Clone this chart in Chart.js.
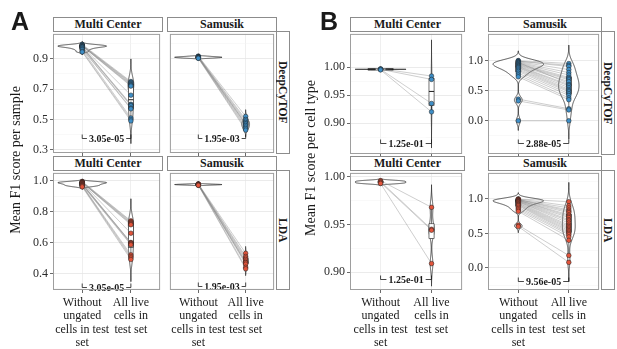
<!DOCTYPE html>
<html><head><meta charset="utf-8">
<script src="https://cdn.jsdelivr.net/npm/chart.js@4"></script>
<style>
body{margin:0;width:617px;height:349px;background:#fff;position:relative;overflow:hidden;font-family:"Liberation Serif","DejaVu Serif",serif;color:#1a1a1a}
canvas{position:absolute}
.strip{position:absolute;box-sizing:border-box;border:1px solid #8c8c8c;background:#fff;font-family:"Liberation Serif",serif;font-weight:bold;font-size:12px;display:flex;align-items:center;justify-content:center;z-index:5;white-space:nowrap}
.vstrip{writing-mode:vertical-rl;font-size:11.5px}
.ytitle{position:absolute;font-family:"Liberation Serif",serif;font-size:14px;white-space:nowrap;transform:translate(-50%,-50%) rotate(-90deg);z-index:5}
.letter{position:absolute;font-family:"Liberation Sans",Arial,sans-serif;font-weight:bold;font-size:25px;line-height:1;z-index:5}
</style></head>
<body>
<script>
// ---------------- DATA ----------------
const categories = ["Without ungated cells in test set", "All live cells in test set"];
const categoryLines = [["Without", "ungated", "cells in test", "set"], ["All live", "cells in", "test set"]];
const dataSetNames = ["Multi Center", "Samusik"];
const methodNames = ["DeepCyTOF", "LDA"];
const yTitleA = "Mean F1 score per sample";
const yTitleB = "Mean F1 score per cell type";

// Panel A: mean F1 per sample (index i of "without" is paired with index i of "all")
const aMcDeepWithout = [0.995, 0.99, 0.99, 0.988, 0.985, 0.985, 0.983, 0.98, 0.98, 0.978, 0.975, 0.97, 0.965, 0.96, 0.95, 0.945];
const aMcDeepAll     = [0.75, 0.745, 0.74, 0.735, 0.73, 0.725, 0.72, 0.66, 0.60, 0.595, 0.59, 0.575, 0.57, 0.51, 0.50, 0.49];
const aSamDeepWithout = [0.918, 0.915, 0.913, 0.912, 0.910, 0.910, 0.908, 0.907, 0.905, 0.903];
const aSamDeepAll     = [0.52, 0.50, 0.49, 0.48, 0.47, 0.47, 0.46, 0.45, 0.44, 0.43];
const aMcLdaWithout = [0.995, 0.993, 0.99, 0.99, 0.988, 0.987, 0.985, 0.983, 0.98, 0.978, 0.975, 0.972, 0.97, 0.967, 0.965, 0.96];
const aMcLdaAll     = [0.74, 0.735, 0.73, 0.725, 0.72, 0.715, 0.66, 0.60, 0.598, 0.595, 0.59, 0.585, 0.52, 0.51, 0.50, 0.49];
const aSamLdaWithout = [0.98, 0.978, 0.977, 0.976, 0.975, 0.975, 0.974, 0.973, 0.972, 0.970];
const aSamLdaAll     = [0.53, 0.51, 0.50, 0.49, 0.48, 0.47, 0.47, 0.46, 0.44, 0.43];

// Panel B: mean F1 per cell type
const bMcDeepWithout = [0.997, 0.996, 0.996, 0.995];
const bMcDeepAll     = [0.984, 0.978, 0.935, 0.920];
const bSamDeepWithout = [1.00, 0.99, 0.99, 0.98, 0.97, 0.97, 0.96, 0.95, 0.94, 0.93, 0.92, 0.91, 0.90, 0.89, 0.88, 0.86, 0.84, 0.82, 0.79, 0.76, 0.73, 0.36, 0.33, 0.00];
const bSamDeepAll     = [0.95, 0.92, 0.90, 0.85, 0.62, 0.80, 0.76, 0.72, 0.70, 0.68, 0.65, 0.60, 0.58, 0.55, 0.52, 0.50, 0.48, 0.45, 0.42, 0.38, 0.35, 0.20, 0.18, 0.00];
const bMcLdaWithout = [0.996, 0.995, 0.994, 0.993];
const bMcLdaAll     = [0.968, 0.945, 0.944, 0.909];
const bSamLdaWithout = [1.00, 1.00, 0.99, 0.99, 0.99, 0.98, 0.98, 0.98, 0.97, 0.97, 0.96, 0.96, 0.95, 0.94, 0.93, 0.92, 0.91, 0.90, 0.88, 0.86, 0.84, 0.82, 0.62, 0.60];
const bSamLdaAll     = [0.96, 0.90, 0.87, 0.84, 0.82, 0.80, 0.77, 0.75, 0.73, 0.70, 0.68, 0.65, 0.62, 0.60, 0.58, 0.56, 0.54, 0.52, 0.50, 0.48, 0.45, 0.40, 0.18, 0.08];

// p-values (order: MC DeepCyTOF, Samusik DeepCyTOF, MC LDA, Samusik LDA)
const pValuesA = ["3.05e-05", "1.95e-03", "3.05e-05", "1.95e-03"];
const pValuesB = ["1.25e-01", "2.88e-05", "1.25e-01", "9.56e-05"];

// tick values
const ticksATop    = {major: [0.3, 0.5, 0.7, 0.9], minor: [0.4, 0.6, 0.8, 1.0]};
const ticksABottom = {major: [0.4, 0.6, 0.8, 1.0], minor: [0.3, 0.5, 0.7, 0.9]};
const ticksBMcTop    = {major: [0.90, 0.95, 1.00], minor: [0.875, 0.925, 0.975, 1.025]};
const ticksBMcBottom = {major: [0.90, 0.95, 1.00], minor: [0.925, 0.975]};
const ticksBSam      = {major: [0.0, 0.5, 1.0], minor: [-0.25, 0.25, 0.75, 1.25]};

// ---------------- STYLE ----------------
const SERIF = '"Liberation Serif","DejaVu Serif",serif';
const BLUE = '#3e8ec6', RED = '#e2543b';
const VIOLIN_HALF = 0.5, BOX_WIDTH = 0.1;

// ---------------- HELPERS ----------------
function quantile(s, p){ const h=(s.length-1)*p, i=Math.floor(h); const a=s[i], b=s[Math.min(i+1,s.length-1)]; return a+(h-i)*(b-a); }
function bwNrd0(v){
  const n=v.length, m=v.reduce((a,b)=>a+b,0)/n;
  const sd=Math.sqrt(v.reduce((a,b)=>a+(b-m)*(b-m),0)/(n-1));
  const s=[...v].sort((a,b)=>a-b);
  const iqr=quantile(s,0.75)-quantile(s,0.25);
  let lo=Math.min(sd, iqr/1.34); if(!(lo>0)) lo = sd || Math.abs(s[0]) || 1;
  return 0.9*lo*Math.pow(n,-0.2);
}
function kde(v){
  const bw=bwNrd0(v), lo=Math.min(...v)-3*bw, hi=Math.max(...v)+3*bw, N=400, out=[];
  for(let k=0;k<=N;k++){
    const y=lo+(hi-lo)*k/N; let d=0;
    for(const x of v){ const z=(y-x)/bw; d+=Math.exp(-0.5*z*z); }
    out.push([y, d/(v.length*bw*Math.sqrt(2*Math.PI))]);
  }
  return out;
}

function violinPlugin(p){
  return {id:'violin', beforeDatasetsDraw(chart){
    const {ctx, chartArea:a, scales:{x, y}} = chart;
    const dens = p.groups.map(kde);
    const mx = Math.max(...dens.map(d=>Math.max(...d.map(q=>q[1]))));
    const unit = x.getPixelForValue(1)-x.getPixelForValue(0);
    ctx.save(); ctx.beginPath(); ctx.rect(a.left,a.top,a.right-a.left,a.bottom-a.top); ctx.clip();
    dens.forEach((d,gi)=>{
      const cx = x.getPixelForValue(gi);
      ctx.beginPath();
      d.forEach(([v,den],k)=>{ const px=cx+VIOLIN_HALF*unit*den/mx, py=y.getPixelForValue(v); k?ctx.lineTo(px,py):ctx.moveTo(px,py); });
      for(let k=d.length-1;k>=0;k--){ const [v,den]=d[k]; ctx.lineTo(cx-VIOLIN_HALF*unit*den/mx, y.getPixelForValue(v)); }
      ctx.closePath(); ctx.fillStyle='#fff'; ctx.fill(); ctx.strokeStyle='#1a1a1a'; ctx.lineWidth=0.75; ctx.stroke();
      const s=[...p.groups[gi]].sort((a,b)=>a-b);
      const q1=quantile(s,.25), q2=quantile(s,.5), q3=quantile(s,.75), iqr=q3-q1;
      const lo=s.find(v=>v>=q1-1.5*iqr), hi=[...s].reverse().find(v=>v<=q3+1.5*iqr);
      const hw=BOX_WIDTH*unit/2;
      ctx.lineWidth=0.6;
      ctx.beginPath(); ctx.moveTo(cx,y.getPixelForValue(hi)); ctx.lineTo(cx,y.getPixelForValue(q3));
      ctx.moveTo(cx,y.getPixelForValue(q1)); ctx.lineTo(cx,y.getPixelForValue(lo)); ctx.stroke();
      const t=y.getPixelForValue(q3), b=y.getPixelForValue(q1);
      ctx.fillStyle='#fff'; ctx.fillRect(cx-hw,t,2*hw,b-t); ctx.strokeRect(cx-hw,t,2*hw,b-t);
      ctx.lineWidth=1; ctx.beginPath(); const m=y.getPixelForValue(q2); ctx.moveTo(cx-hw,m); ctx.lineTo(cx+hw,m); ctx.stroke();
    });
    ctx.restore();
  }};
}
function overlayPlugin(p){
  return {id:'overlay', afterDatasetsDraw(chart){
    const {ctx, chartArea:a, scales:{x, y}} = chart;
    ctx.save();
    const yy=Math.round(y.getPixelForValue(p.py))+0.5, x0=x.getPixelForValue(0), x1=x.getPixelForValue(1);
    ctx.strokeStyle='#1a1a1a'; ctx.lineWidth=0.8;
    ctx.beginPath(); ctx.moveTo(x0,yy-4); ctx.lineTo(x0,yy); ctx.lineTo(x1,yy); ctx.lineTo(x1,yy-4); ctx.stroke();
    ctx.font='bold 10px '+SERIF; const tw=ctx.measureText(p.p).width, cx=(x0+x1)/2;
    ctx.fillStyle='#fff'; ctx.fillRect(cx-tw/2-2,yy-6,tw+4,12);
    ctx.fillStyle='#1a1a1a'; ctx.textAlign='center'; ctx.textBaseline='middle'; ctx.fillText(p.p,cx,yy+0.5);
    ctx.strokeStyle='#9e9e9e'; ctx.lineWidth=1;
    ctx.strokeRect(a.left+0.5,a.top+0.5,a.right-a.left-1,a.bottom-a.top-1);
    ctx.restore();
  }};
}

function makePanel(p){
  const cv=document.createElement('canvas');
  const W=p.yw+p.w, H=p.h+p.xh;
  cv.width=W; cv.height=H;
  cv.style.left=(p.left-p.yw)+'px'; cv.style.top=p.top+'px'; cv.style.width=W+'px'; cv.style.height=H+'px';
  document.body.appendChild(cv);
  const [g0,g1]=p.groups;
  const pt={type:'scatter', pointRadius:2.3, pointHoverRadius:2.3, pointBorderWidth:0.6, pointBorderColor:'rgba(30,30,30,0.85)', pointBackgroundColor:p.color, order:0};
  const ds=[
    Object.assign({label:categories[0], data:g0.map(v=>({x:0,y:v}))}, pt),
    Object.assign({label:categories[1], data:g1.map(v=>({x:1,y:v}))}, pt)
  ];
  g0.forEach((v,i)=>ds.push({type:'line', data:[{x:0,y:v},{x:1,y:g1[i]}], borderColor:'rgba(125,125,125,0.38)', borderWidth:1, pointRadius:0, order:1}));
  new Chart(cv,{
    type:'scatter',
    data:{datasets:ds},
    options:{
      responsive:false, animation:false, events:[],
      layout:{padding:0},
      plugins:{legend:{display:false}, tooltip:{enabled:false}},
      scales:{
        x:{type:'linear', min:-0.6, max:1.6,
          afterBuildTicks:s=>{s.ticks=[{value:0},{value:1}];},
          afterFit:s=>{s.height=p.xh; s.paddingLeft=0; s.paddingRight=0;},
          ticks:{display:p.showX, autoSkip:false, maxRotation:0, padding:3, color:'#1a1a1a',
            font:{family:SERIF, size:12, lineHeight:1.12}, callback:v=>categoryLines[v]},
          grid:{color:'#ebebeb', lineWidth:0.8, tickLength:3, tickColor:'#444', drawTicks:true},
          border:{display:false}},
        y:{type:'linear', min:p.ymin, max:p.ymax,
          afterBuildTicks:s=>{s.ticks=p.ticks.major.map(v=>({value:v,isMajor:true})).concat(p.ticks.minor.map(v=>({value:v,isMajor:false}))).sort((a,b)=>a.value-b.value);},
          afterFit:s=>{s.width=p.yw; s.paddingTop=0; s.paddingBottom=0;},
          ticks:{display:p.showY, autoSkip:false, padding:2, color:'#2b2b2b', font:{family:SERIF, size:12},
            callback:(v,i,t)=>t[i].isMajor?Number(v).toFixed(p.dec):''},
          grid:{color:c=>(c.tick&&c.tick.isMajor)?'#e6e6e6':'#f3f3f3', lineWidth:c=>(c.tick&&c.tick.isMajor)?0.8:0.5,
            drawTicks:p.showY, tickLength:3, tickColor:c=>(c.tick&&c.tick.isMajor)?'#444':'rgba(0,0,0,0)'},
          border:{display:false}}
      }
    },
    plugins:[violinPlugin(p), overlayPlugin(p)]
  });
}

function addDiv(cls, text, l, t, w, h){
  const d=document.createElement('div'); d.className=cls; d.textContent=text;
  Object.assign(d.style,{left:l+'px', top:t+'px'});
  if(w!==null){ d.style.width=w+'px'; d.style.height=h+'px'; }
  document.body.appendChild(d); return d;
}

// ---------------- LAYOUT ----------------
const panels=[
  // Panel A
  {left:53, top:31, w:110, h:122, yw:40, xh:6, ymin:0.279, ymax:1.064, ticks:ticksATop, dec:1, showY:true, showX:false, groups:[aMcDeepWithout,aMcDeepAll], color:BLUE, p:pValuesA[0], py:0.377},
  {left:167, top:31, w:110, h:122, yw:0, xh:6, ymin:0.279, ymax:1.064, ticks:ticksATop, dec:1, showY:false, showX:false, groups:[aSamDeepWithout,aSamDeepAll], color:BLUE, p:pValuesA[1], py:0.377},
  {left:53, top:170, w:110, h:120, yw:40, xh:59, ymin:0.2926, ymax:1.0505, ticks:ticksABottom, dec:1, showY:true, showX:true, groups:[aMcLdaWithout,aMcLdaAll], color:RED, p:pValuesA[2], py:0.31},
  {left:167, top:170, w:110, h:120, yw:0, xh:59, ymin:0.2926, ymax:1.0505, ticks:ticksABottom, dec:1, showY:false, showX:true, groups:[aSamLdaWithout,aSamLdaAll], color:RED, p:pValuesA[3], py:0.32},
  // Panel B
  {left:350, top:31, w:115, h:123, yw:42, xh:6, ymin:0.8447, ymax:1.0593, ticks:ticksBMcTop, dec:2, showY:true, showX:false, groups:[bMcDeepWithout,bMcDeepAll], color:BLUE, p:pValuesB[0], py:0.865},
  {left:488, top:31, w:114, h:123, yw:36, xh:6, ymin:-0.551, ymax:1.442, ticks:ticksBSam, dec:1, showY:true, showX:false, groups:[bSamDeepWithout,bSamDeepAll], color:BLUE, p:pValuesB[1], py:-0.37},
  {left:350, top:170, w:115, h:120, yw:42, xh:59, ymin:0.8813, ymax:1.0041, ticks:ticksBMcBottom, dec:2, showY:true, showX:true, groups:[bMcLdaWithout,bMcLdaAll], color:RED, p:pValuesB[2], py:0.893},
  {left:488, top:170, w:114, h:120, yw:36, xh:59, ymin:-0.321, ymax:1.378, ticks:ticksBSam, dec:1, showY:true, showX:true, groups:[bSamLdaWithout,bSamLdaAll], color:RED, p:pValuesB[3], py:-0.19}
];
panels.forEach(makePanel);

// strips
addDiv('strip', dataSetNames[0], 53, 17, 110, 15);
addDiv('strip', dataSetNames[1], 167, 17, 110, 15);
addDiv('strip', dataSetNames[0], 53, 156, 110, 15);
addDiv('strip', dataSetNames[1], 167, 156, 110, 15);
addDiv('strip vstrip', methodNames[0], 276, 31, 14, 123);
addDiv('strip vstrip', methodNames[1], 276, 170, 14, 120);
addDiv('strip', dataSetNames[0], 350, 17, 115, 15);
addDiv('strip', dataSetNames[1], 488, 17, 114, 15);
addDiv('strip', dataSetNames[0], 350, 156, 115, 15);
addDiv('strip', dataSetNames[1], 488, 156, 114, 15);
addDiv('strip vstrip', methodNames[0], 601, 31, 14, 124);
addDiv('strip vstrip', methodNames[1], 601, 170, 14, 120);

// titles and letters
addDiv('ytitle', yTitleA, 16, 160, null, null);
addDiv('ytitle', yTitleB, 311, 158, null, null);
addDiv('letter', 'A', 11, 9, null, null);
addDiv('letter', 'B', 320, 9, null, null);
</script>
</body></html>
